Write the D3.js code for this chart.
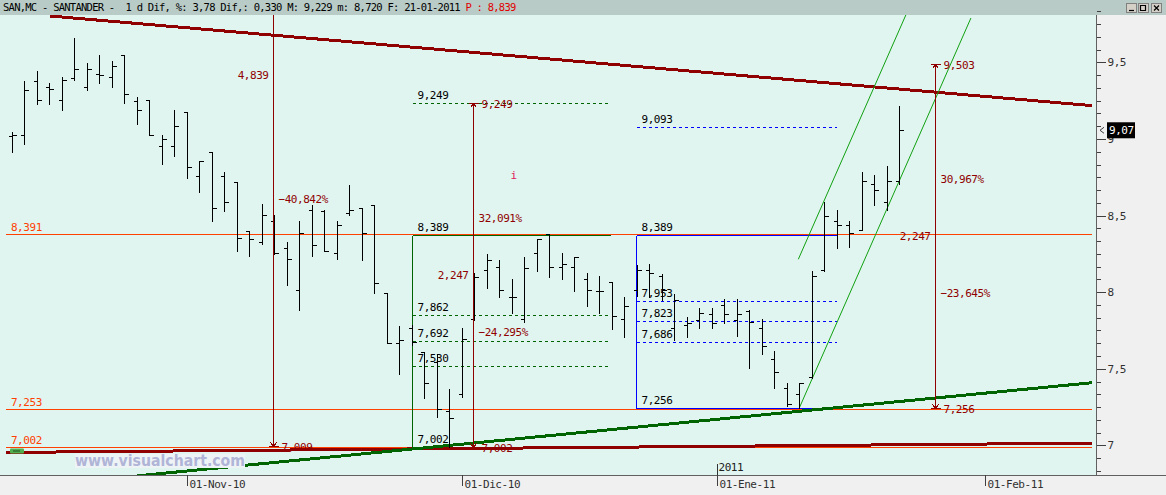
<!DOCTYPE html>
<html>
<head>
<meta charset="utf-8">
<title>SAN,MC - SANTANDER</title>
<script src="https://cdn.jsdelivr.net/npm/d3@7"></script>
<style>
body{margin:0;background:#f0f0f0;overflow:hidden;}
svg text{font-family:"DejaVu Sans Mono",monospace;font-size:11px;letter-spacing:-0.45px;white-space:pre;}
</style>
</head>
<body>
<script>
// ---- data (daily bars, index 0 .. 71, last = 21-01-2011) ----
var open  = [9.03,9.04,9.39,9.35,9.27,9.41,9.35,9.44,9.42,9.56,9.26,9.27,8.97,8.97,9.19,8.77,8.93,8.77,8.73,8.41,
             8.34,8.48,8.30,8.03,8.55,8.54,8.27,8.53,8.56,8.58,8.01,7.68,7.78,7.62,7.56,7.24,7.35,7.84,8.16,8.18,
             7.98,7.84,8.27,8.39,8.18,8.18,8.10,8.02,8.08,7.84,8.03,8.16,8.12,7.78,7.80,7.83,7.87,7.93,7.83,7.89,
             7.78,7.58,7.39,7.35,7.46,8.16,8.48,8.45,8.42,8.72,8.60,8.74];
var high  = [9.06,9.39,9.46,9.38,9.42,9.67,9.51,9.56,9.52,9.56,9.29,9.27,9.04,9.20,9.19,8.87,8.93,8.80,8.73,8.41,
             8.59,8.52,8.34,8.48,8.58,8.55,8.48,8.71,8.56,8.58,8.01,7.79,7.80,7.62,7.61,7.38,7.78,8.14,8.26,8.22,
             8.10,8.24,8.36,8.389,8.27,8.24,8.14,8.12,8.08,7.98,8.19,8.20,8.13,8.00,7.85,7.91,7.91,7.97,7.97,7.90,
             7.84,7.63,7.42,7.42,8.15,8.60,8.55,8.48,8.80,8.78,8.84,9.229];
var low   = [8.93,8.98,9.24,9.24,9.20,9.40,9.33,9.38,9.35,9.25,9.11,9.04,8.85,8.90,8.76,8.67,8.48,8.54,8.28,8.25,
             8.33,8.26,8.06,7.90,8.25,8.28,8.23,8.52,8.22,8.01,7.68,7.48,7.67,7.32,7.20,7.002,7.33,7.83,8.04,7.98,
             7.88,7.82,8.15,8.11,8.10,8.02,7.92,7.88,7.77,7.72,7.99,7.98,7.96,7.70,7.72,7.78,7.78,7.81,7.73,7.52,
             7.61,7.39,7.27,7.256,7.45,8.15,8.30,8.31,8.42,8.58,8.55,8.72];
var close = [9.04,9.33,9.27,9.34,9.40,9.47,9.47,9.43,9.49,9.31,9.20,9.04,9.01,9.10,8.83,8.87,8.56,8.60,8.37,8.36,
             8.52,8.27,8.23,8.40,8.32,8.28,8.45,8.55,8.40,8.07,7.68,7.70,7.69,7.42,7.25,7.19,7.71,8.11,8.22,8.03,
             7.98,8.17,8.36,8.18,8.20,8.24,8.03,8.02,7.86,7.92,8.16,8.14,8.03,7.96,7.81,7.88,7.81,7.87,7.87,7.82,
             7.66,7.49,7.28,7.42,8.12,8.51,8.45,8.40,8.74,8.68,8.74,9.07];

var dateLabels = ["01-Nov-10","01-Dic-10","01-Ene-11","01-Feb-11"];
var dateIdx    = [14, 36, 56.45, 77.9];
var yearLabel  = "2011";
var priceTicks = [7, 7.5, 8, 8.5, 9, 9.5];
var lastPrice  = 9.07;

// horizontal support / resistance levels
var levels = [8.391, 7.253, 7.002];

// trend lines: [startIdx, startVal, endIdx, endVal]
var redTop    = [3.06, 9.816, 86.4, 9.231];
var redBottom = [-0.48, 6.967, 86.4, 7.028];
var greenBase = [10, 6.814, 86.4, 7.422];
var channelLow  = [63, 7.256, 76.74, 9.803];
var channelHigh = [62.93, 8.228, 76.67, 10.775];

// price measurements (vertical rulers)
var measureIdx  = [20.93, 36.93, 73.86];
var measureLow  = [7.009, 7.002, 7.256];
var measureHigh = [11.848, 9.249, 9.503];

// fibonacci boxes
var fibGreenIdx = [32.0, 47.86];
var fibGreenLo = 7.002, fibGreenHi = 8.389;
var fibGreenLevels = [9.249, 7.862, 7.692, 7.530];
var fibBlueIdx = [49.92, 65.92];
var fibBlueLo = 7.256, fibBlueHi = 8.389;
var fibBlueLevels = [9.093, 7.953, 7.823, 7.686];

var header = "SAN,MC - SANTANDER -  1 d Dif, %: 3,78 Dif,: 0,330 M: 9,229 m: 8,720 F: 21-01-2011 ";
var headerP = "P : 8,839";

// ---- layout ----
var width = 1166, height = 495;
var plot = {left: 0, top: 15, right: 1096, bottom: 475};
var DKRED = '#900000', ORANGE = '#ff4000', DKGREEN = '#006400', LTGREEN = '#10a010', BLUE = '#0000ff';

var es = d3.formatLocale({decimal: ",", thousands: ".", grouping: [3], currency: ["", "€"]});
var f3 = es.format(".3f"), f1 = es.format("~g"), f2 = es.format(".2f");

var svg = d3.select('body').append('svg').attr('width', width).attr('height', height);

var x = d3.scaleLinear().domain([-0.936, 86.744]).range([plot.left, plot.right]);
var y = d3.scaleLinear().domain([6.8198, 9.8029]).range([plot.bottom, plot.top + 3]);
function px(i){ return Math.round(x(i)) + 0.5; }
function py(v){ return Math.round(y(v)) + 0.5; }
function inPlot(v){ return y(v) > plot.top + 4 && y(v) < plot.bottom - 4; }

// backgrounds
svg.append('rect').attr('x', 0).attr('y', 0).attr('width', width).attr('height', height).attr('fill', '#f0f0f0');
svg.append('rect').attr('x', plot.left).attr('y', plot.top).attr('width', plot.right - plot.left)
   .attr('height', plot.bottom - plot.top).attr('fill', '#e0f5f0');
svg.append('rect').attr('x', 0).attr('y', 0).attr('width', width).attr('height', plot.top).attr('fill', '#b8cbc6');

svg.append('defs').append('clipPath').attr('id', 'clip').append('rect')
   .attr('x', plot.left).attr('y', plot.top).attr('width', plot.right - plot.left).attr('height', plot.bottom - plot.top);
var g = svg.append('g').attr('clip-path', 'url(#clip)').attr('shape-rendering', 'crispEdges');

// level lines
g.selectAll('line.level').data(levels).enter().append('line')
  .attr('x1', x(-0.46)).attr('x2', x(86.4)).attr('y1', py).attr('y2', py)
  .attr('stroke', ORANGE).attr('stroke-width', 1);
g.selectAll('text.level').data(levels).enter().append('text')
  .attr('x', x(-0.46) + 5).attr('y', function(d){ return y(d) - 3; })
  .attr('fill', ORANGE).text(f3);

// fib boxes
function fibBox(idx, lo, hi, lv, col){
  var x0 = px(idx[0]), x1 = px(idx[1]);
  g.append('line').attr('x1', x0).attr('x2', x0).attr('y1', py(hi)).attr('y2', py(lo)).attr('stroke', col);
  [hi, lo].forEach(function(v){
    g.append('line').attr('x1', x0).attr('x2', x1).attr('y1', py(v)).attr('y2', py(v)).attr('stroke', col);
  });
  g.selectAll(null).data(lv).enter().append('line')
    .attr('x1', x0).attr('x2', x1).attr('y1', py).attr('y2', py)
    .attr('stroke', col).attr('stroke-dasharray', '3,3');
  g.selectAll(null).data(lv.concat([hi, lo])).enter().append('text')
    .attr('x', x0 + 5).attr('y', function(d){ return y(d) - 4; })
    .attr('fill', '#000').text(f3);
}
fibBox(fibGreenIdx, fibGreenLo, fibGreenHi, fibGreenLevels, DKGREEN);
fibBox(fibBlueIdx, fibBlueLo, fibBlueHi, fibBlueLevels, BLUE);

// thick trend lines
[[redTop, DKRED], [redBottom, DKRED], [greenBase, DKGREEN]].forEach(function(t){
  var d = t[0];
  g.append('line').attr('x1', x(d[0])).attr('y1', y(d[1])).attr('x2', x(d[2])).attr('y2', y(d[3]))
   .attr('stroke', t[1]).attr('stroke-width', 3);
});
// thin channel
[channelLow, channelHigh].forEach(function(d){
  g.append('line').attr('x1', x(d[0])).attr('y1', y(d[1])).attr('x2', x(d[2])).attr('y2', y(d[3]))
   .attr('stroke', LTGREEN).attr('stroke-width', 1).attr('shape-rendering', 'auto');
});

// OHLC bars
var idx = d3.range(open.length);
var bar = g.selectAll('g.bar').data(idx).enter().append('g');
bar.append('line').attr('x1', px).attr('x2', px)
   .attr('y1', function(i){ return Math.round(y(high[i])); })
   .attr('y2', function(i){ return Math.round(y(low[i])) + 1; })
   .attr('stroke', '#000');
bar.append('line').attr('x1', function(i){ return px(i) - 4; }).attr('x2', px)
   .attr('y1', function(i){ return py(open[i]); }).attr('y2', function(i){ return py(open[i]); })
   .attr('stroke', '#000');
bar.append('line').attr('x1', px).attr('x2', function(i){ return px(i) + 4; })
   .attr('y1', function(i){ return py(close[i]); }).attr('y2', function(i){ return py(close[i]); })
   .attr('stroke', '#000');

// measure rulers
measureIdx.forEach(function(m, k){
  var lo = measureLow[k], hi = measureHigh[k], xm = px(m);
  var diff = hi - lo;
  g.append('line').attr('x1', xm).attr('x2', xm).attr('y1', y(hi)).attr('y2', py(lo)).attr('stroke', DKRED);
  // end markers
  [[lo, 1], [hi, -1]].forEach(function(e){
    if (!inPlot(e[0])) return;
    var yy = py(e[0]);
    g.append('line').attr('x1', xm - 5).attr('x2', xm + 5).attr('y1', yy).attr('y2', yy).attr('stroke', DKRED);
    g.append('path').attr('d', 'M' + (xm - 3) + ',' + (yy - 4 * e[1]) + 'L' + xm + ',' + yy + 'L' + (xm + 3) + ',' + (yy - 4 * e[1]))
     .attr('fill', 'none').attr('stroke', DKRED);
    g.append('text').attr('x', xm + 8).attr('y', yy + 4).attr('fill', DKRED).text(f3(e[0]));
  });
  var mid = (hi + lo) / 2, up = hi - diff / 3, dn = lo + diff / 3;
  if (inPlot(mid))
    g.append('text').attr('x', xm - 5).attr('y', y(mid) + 4).attr('text-anchor', 'end')
     .attr('fill', DKRED).text(f3(diff));
  if (inPlot(up))
    g.append('text').attr('x', xm + 5).attr('y', y(up) + 4)
     .attr('fill', DKRED).text(f3(diff / lo * 100) + '%');
  if (inPlot(dn))
    g.append('text').attr('x', xm + 5).attr('y', y(dn) + 4)
     .attr('fill', DKRED).text(f3(-diff / hi * 100) + '%');
});

// info marker
g.append('text').attr('x', x(39.9)).attr('y', y(8.75)).attr('fill', '#e0205a').text('i');

// watermark
svg.append('rect').attr('x', 75).attr('y', 454).attr('width', 170).attr('height', 14).attr('fill', '#eef3f6');
svg.append('text').attr('x', 75).attr('y', 466).attr('fill', '#b0b4d6')
   .style('font-family', '"DejaVu Sans", sans-serif').style('font-weight', 'bold').style('font-size', '15px')
   .style('letter-spacing', '0px').attr('textLength', 170).attr('lengthAdjust', 'spacingAndGlyphs')
   .text('www.visualchart.com');
svg.append('rect').attr('x', 10).attr('y', 448.5).attr('width', 14).attr('height', 5).attr('rx', 1).attr('fill', '#50b050');
svg.append('line').attr('x1', 13).attr('x2', 20).attr('y1', 451).attr('y2', 451).attr('stroke', '#205020');

// year marker
svg.append('line').attr('x1', px(dateIdx[2])).attr('x2', px(dateIdx[2])).attr('y1', 464).attr('y2', plot.bottom)
   .attr('stroke', '#333').attr('shape-rendering', 'crispEdges');
svg.append('text').attr('x', px(dateIdx[2]) + 1).attr('y', 471).attr('fill', '#222').text(yearLabel);

// axes frame
svg.append('line').attr('x1', 0).attr('x2', width).attr('y1', plot.bottom + 0.5).attr('y2', plot.bottom + 0.5)
   .attr('stroke', '#606060');
svg.append('line').attr('x1', plot.right + 0.5).attr('x2', plot.right + 0.5).attr('y1', plot.top).attr('y2', plot.bottom)
   .attr('stroke', '#606060');

// right price axis (drawn 2px higher, as in the original terminal)
var yAxis = d3.axisRight(y).tickValues(priceTicks).tickSize(9).tickPadding(2).tickFormat(f1);
var ya = svg.append('g').attr('transform', 'translate(' + (plot.right + 0.5) + ',-2)').call(yAxis);
ya.select('.domain').remove();
ya.selectAll('line').attr('stroke', '#404040').attr('shape-rendering', 'crispEdges');
ya.selectAll('text').attr('fill', '#303030').style('font-family', '"DejaVu Sans Mono",monospace').style('font-size', '11px');
var minor = d3.range(-2, 37).map(function(k){ return 7 + k / 12; });
ya.selectAll('line.minor').data(minor).enter().append('line').attr('class', 'minor')
   .attr('x1', 0).attr('x2', 4).attr('y1', py).attr('y2', py)
   .attr('stroke', '#404040').attr('shape-rendering', 'crispEdges');

// last price box
var yl = y(lastPrice);
svg.append('rect').attr('x', 1107).attr('y', yl - 8).attr('width', 28).attr('height', 16).attr('fill', '#000');
svg.append('text').attr('x', 1109).attr('y', yl + 4).attr('fill', '#fff').text(f2(lastPrice));
svg.append('path').attr('d', 'M1104,' + (yl - 3) + 'L1100,' + yl + 'L1104,' + (yl + 3)).attr('fill', 'none').attr('stroke', '#404040');

// bottom date axis
var xa = svg.append('g');
xa.selectAll('line').data(dateIdx).enter().append('line')
  .attr('x1', px).attr('x2', px).attr('y1', plot.bottom).attr('y2', plot.bottom + 11)
  .attr('stroke', '#404040').attr('shape-rendering', 'crispEdges');
xa.selectAll('text').data(dateIdx).enter().append('text')
  .attr('x', function(d){ return px(d) + 2; }).attr('y', plot.bottom + 13).attr('fill', '#303030')
  .text(function(d, i){ return dateLabels[i]; });

// header
var ht = svg.append('text').attr('x', 3).attr('y', 11).attr('fill', '#000')
  .style('font-size', '10.5px').style('letter-spacing', '-0.75px');
ht.append('tspan').text(header);
ht.append('tspan').attr('fill', '#e00000').text(headerP);

// window buttons
[1126, 1138, 1151].forEach(function(bx, k){
  svg.append('rect').attr('x', bx + 0.5).attr('y', 3.5).attr('width', 10).attr('height', 9)
     .attr('fill', '#d4d0c8').attr('stroke', '#808080');
  var gl = ['M' + (bx + 3) + ',10.5h5', 'M' + (bx + 2.5) + ',5.5h5v5h-5z', 'M' + (bx + 3) + ',5.5l5,5M' + (bx + 8) + ',5.5l-5,5'][k];
  svg.append('path').attr('d', gl).attr('fill', 'none').attr('stroke', '#000').attr('stroke-width', 1.2);
});
</script>
</body>
</html>
